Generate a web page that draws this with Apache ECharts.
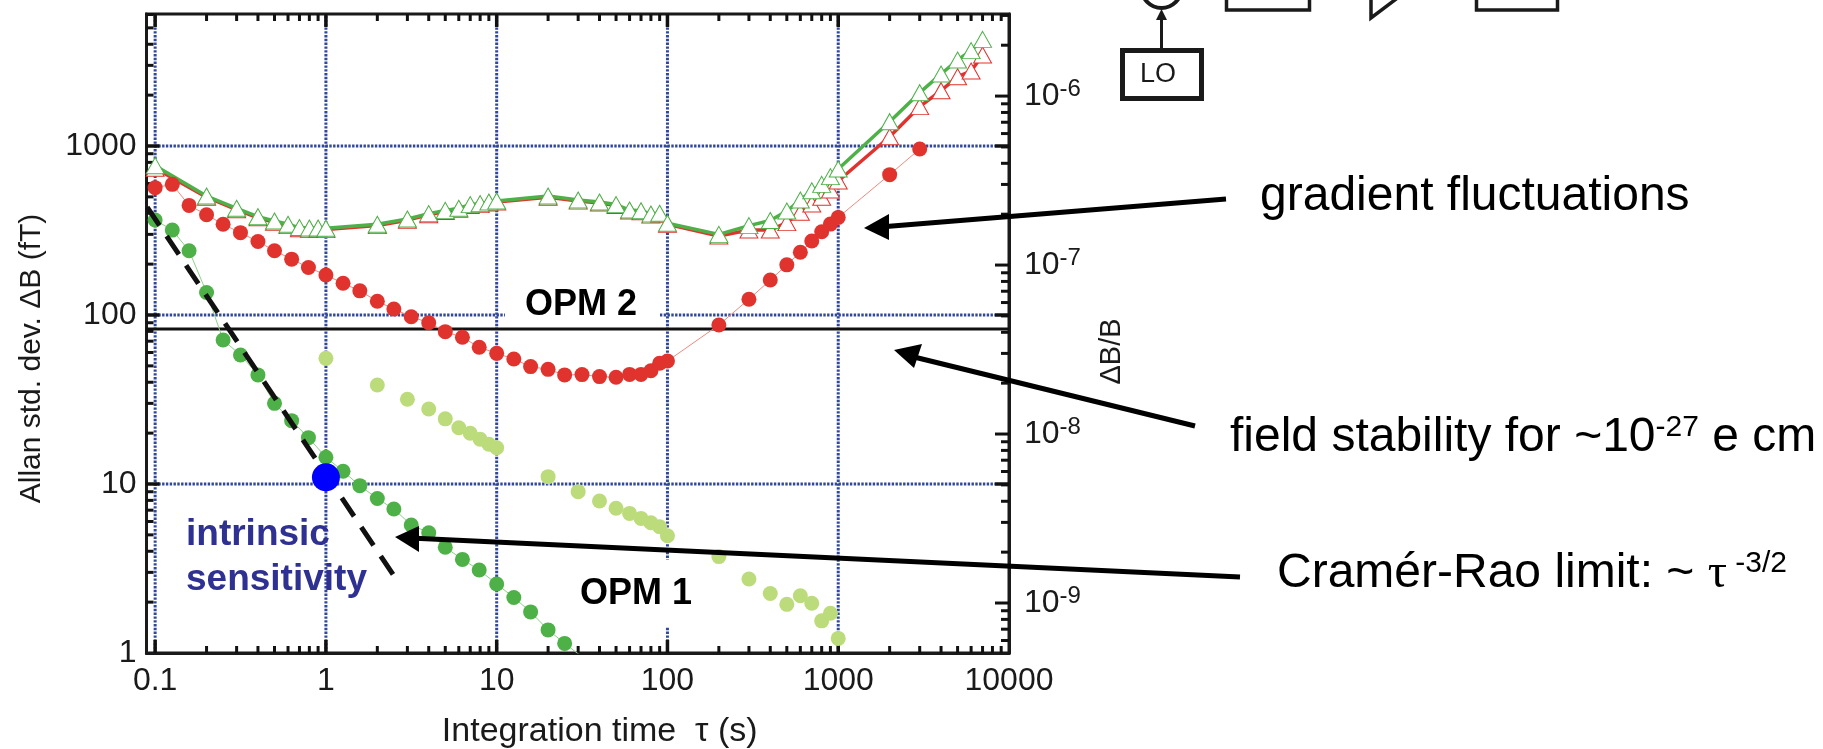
<!DOCTYPE html>
<html><head><meta charset="utf-8">
<style>html,body{margin:0;padding:0;background:#fff}#c{width:1823px;height:749px}</style>
<script src="https://cdn.jsdelivr.net/npm/echarts@6/dist/echarts.min.js"></script>
</head><body><div id="c"></div>
<script>
// ---- data ----
const tauFine = [0.1,0.126,0.158,0.2,0.25,0.316,0.4,0.5,0.63,0.79,1,1.26,1.58,2,2.5,3.16,4,5,6.3,7.9,10,12.6,15.8,20,25,31.6,40,50,60,70,80,90,100];
const redDots = [567,593,445,392,344,307,272,240,214,191,172.5,154,139,120.5,108.6,97.7,90,79.7,73.8,64.4,59.3,54.9,49.5,47.7,44.2,44.4,43.2,42.8,44.5,44.5,46.8,51.8,53.4];
const tauRedUpper = [200,300,400,500,600,700,800,900,1000,2000,3000];
const redDotsUpper = [87.3,124,161,198,235,274,311,345,378,677,960];
const tauGreen = [0.1,0.126,0.158,0.2,0.25,0.316,0.4,0.5,0.63,0.79,1,1.26,1.58,2,2.5,3.16,4,5,6.3,7.9,10,12.6,15.8,20,25,31.6];
const greenDots = [365,318,240,136,71.1,58,44.2,30,23.7,18.8,14.4,11.9,9.78,8.2,7.11,5.72,5.15,4.22,3.58,3.1,2.56,2.13,1.75,1.37,1.14,0.95];
const tauDecades = [1,2,3,4,5,6,7,8,9,10,20,30,40,50,60,70,80,90,100,200,300,400,500,600,700,800,900,1000];
const lightDots = [55.4,38.5,31.7,27.8,24.3,21.5,19.95,18.4,17.2,16.4,11.05,9.01,7.93,7.18,6.7,6.26,5.9,5.59,4.94,3.72,2.74,2.25,1.94,2.18,1.97,1.55,1.72,1.22];
const tauTri = [0.1,0.2,0.3,0.4,0.5,0.6,0.7,0.8,0.9,1,2,3,4,5,6,7,8,9,10,20,30,40,50,60,70,80,90,100,200,300,400,500,600,700,800,900,1000,2000,3000,4000,5000,6000,7000];
const greenTri = [765,506,428,382,360,344,329,327,327,326,344,370,398,416,428,450,456,466,473,506,479,466,450,418,414,396,400,349,300,338,362,412,479,544,593,659,731,1393,2068,2668,3228,3666,4276];
const redTri = [738,498,420,376,354,338,324,322,322,320,338,364,392,410,422,444,450,460,466,498,472,460,444,412,408,390,394,344,293,318,318,352,405,454,497,549,621,1135,1710,2125,2570,2778,3453];
const fieldLevel = 82.6;
const limitLine = [[0.0898,435],[2.485,2.89]];
const bluePoint = [[1,10.95]];
const xRange = [0.089,10000], yRange = [1,6040], rightRange = [5.06e-10,3.06e-6];
const gridX = [0.1,1,10,100,1000], gridY = [10,100,1000];
const xMinor = [0.2,0.3,0.4,0.5,0.6,0.7,0.8,0.9,2,3,4,5,6,7,8,9,20,30,40,50,60,70,80,90,200,300,400,500,600,700,800,900,2000,3000,4000,5000,6000,7000,8000,9000];
const xMajor = [0.1,1,10,100,1000];
const yMinor = [2,3,4,5,6,7,8,9,20,30,40,50,60,70,80,90,200,300,400,500,600,700,800,900,2000,3000,4000,5000,6000];
const rightMajor = [1e-9,1e-8,1e-7,1e-6];
const rightMinor = [6e-10,7e-10,8e-10,9e-10,2e-9,3e-9,4e-9,5e-9,6e-9,7e-9,8e-9,9e-9,2e-8,3e-8,4e-8,5e-8,6e-8,7e-8,8e-8,9e-8,2e-7,3e-7,4e-7,5e-7,6e-7,7e-7,8e-7,9e-7,2e-6,3e-6];

// ---- styles ----
const RED='#e0332e', GREEN='#4db148', LIGHT='#bcdc7c', INK='#1a1a1a', DOT='#30479b';
const SANS='"Liberation Sans", Arial, sans-serif';
const zip=(a,b)=>a.map((v,i)=>[v,b[i]]);
const isPow=v=>Math.abs(Math.log10(v)-Math.round(Math.log10(v)))<1e-6;

const dotSeries=(name,data,color,thin,size)=>({name,type:'line',data,symbol:'circle',symbolSize:size||15,
  lineStyle:{color:thin||color,width:thin?1:0},itemStyle:{color},z:4,animation:false,clip:true});
const triSeries=(name,data,color)=>({name,type:'line',data,symbol:'triangle',symbolSize:[18,16],
  lineStyle:{color,width:3.5},itemStyle:{color:'#fff',borderColor:color,borderWidth:1},z:3,animation:false});

const gridItems=[...gridX.map(v=>({v,k:'x'})),...gridY.map(v=>({v,k:'y'}))];
const tickItems=[
  ...xMajor.map(v=>({k:'x',v,l:13})),...xMinor.map(v=>({k:'x',v,l:7})),
  ...yMinor.map(v=>({k:'y',v,l:7})),...gridY.map(v=>({k:'y',v,l:13})),
];
const rightTickItems=[...rightMajor.map(v=>({v,l:14})),...rightMinor.map(v=>({v,l:8}))];
const R2=Math.log10(rightRange[1]/rightRange[0]);
const rLeft=Math.log10(yRange[1]/yRange[0])/R2;
const rightToLeft=v=>yRange[0]*Math.pow(10,Math.log10(v/rightRange[0])*rLeft);

const option={
  animation:false,backgroundColor:'#fff',
  textStyle:{fontFamily:SANS},
  grid:{left:146.5,right:814,top:14,bottom:96,outerBoundsMode:'none',containLabel:false,show:true,borderColor:INK,borderWidth:3,backgroundColor:'transparent'},
  xAxis:{type:'log',logBase:10,min:xRange[0],max:xRange[1],
    name:'Integration time  τ (s)',nameLocation:'middle',nameGap:62,
    nameTextStyle:{fontSize:34,color:INK,fontFamily:SANS,padding:[0,0,0,44]},
    axisLine:{show:true,lineStyle:{color:INK,width:3}},axisTick:{show:false},splitLine:{show:false},minorTick:{show:false},minorSplitLine:{show:false},
    axisLabel:{fontSize:32,color:INK,margin:12,hideOverlap:false,showMinLabel:true,showMaxLabel:true,
      formatter:v=>isPow(v)?String(+v.toPrecision(3)):''}},
  yAxis:[
    {type:'log',logBase:10,min:yRange[0],max:yRange[1],
     name:'Allan std. dev. ΔB (fT)',nameLocation:'middle',nameGap:100,
     nameTextStyle:{fontSize:30,color:INK,fontFamily:SANS,padding:[0,50,0,0]},
     axisLine:{show:true,lineStyle:{color:INK,width:3}},axisTick:{show:false},splitLine:{show:false},minorTick:{show:false},
     axisLabel:{fontSize:32,color:INK,margin:10,hideOverlap:false,showMinLabel:true,
       formatter:v=>isPow(v)?String(Math.round(v)):''}},
    {type:'log',logBase:10,min:rightRange[0],max:rightRange[1],position:'right',
     name:'ΔB/B',nameLocation:'middle',nameGap:88,
     nameTextStyle:{fontSize:29,color:INK,fontFamily:SANS,padding:[0,36,0,0]},
     axisLine:{show:true,lineStyle:{color:INK,width:3}},axisTick:{show:false},splitLine:{show:false},minorTick:{show:false},
     axisLabel:{margin:15,hideOverlap:false,align:'left',
       formatter:v=>isPow(v)?'{a|10}{b|'+Math.round(Math.log10(v))+'}':'',
       rich:{a:{fontSize:32,color:INK,fontFamily:SANS},b:{fontSize:24,color:INK,fontFamily:SANS,padding:[0,0,14,0]}}}}
  ],
  series:[
    {name:'gridlines',type:'custom',z:1,silent:true,data:gridItems.map((d,i)=>[d.k==='x'?d.v:xRange[0],d.k==='y'?d.v:yRange[0]]),
     renderItem:(p,api)=>{const d=gridItems[p.dataIndex];
       const a=d.k==='x'?api.coord([d.v,yRange[0]]):api.coord([xRange[0],d.v]);
       const b=d.k==='x'?api.coord([d.v,yRange[1]]):api.coord([xRange[1],d.v]);
       if(d.k==='y'){a[0]+=8;b[0]-=14;}
       return {type:'line',shape:{x1:a[0],y1:a[1],x2:b[0],y2:b[1]},style:{stroke:DOT,lineWidth:3,lineDash:[2.4,1.4]}};}},
    {name:'ticks',type:'custom',z:1.9,silent:true,clip:false,data:tickItems.map(d=>[d.k==='x'?d.v:xRange[0],d.k==='y'?d.v:yRange[0]]),
     renderItem:(p,api)=>{const d=tickItems[p.dataIndex];const w=d.l>10?3.5:3;const out=[];
       if(d.k==='x'){const a=api.coord([d.v,yRange[0]]),b=api.coord([d.v,yRange[1]]);
         out.push([a[0],a[1],a[0],a[1]-d.l],[b[0],b[1],b[0],b[1]+d.l]);}
       else{const a=api.coord([xRange[0],d.v]),b=api.coord([xRange[1],d.v]);
         out.push([a[0],a[1],a[0]+d.l,a[1]],[b[0],b[1],b[0]-14,b[1]]);
         if(d.l<10) out.pop();}
       return {type:'group',children:out.map(s=>({type:'line',shape:{x1:s[0],y1:s[1],x2:s[2],y2:s[3]},style:{stroke:'#111',lineWidth:w}}))};}},
    {name:'rightTicks',type:'custom',z:1.9,silent:true,clip:false,data:rightTickItems.map(d=>[xRange[1],rightToLeft(d.v)]),
     renderItem:(p,api)=>{const d=rightTickItems[p.dataIndex];const a=api.coord([xRange[1],rightToLeft(d.v)]);
       return {type:'line',shape:{x1:a[0],y1:a[1],x2:a[0]-d.l,y2:a[1]},style:{stroke:'#111',lineWidth:3}};}},
    {name:'field stability',type:'line',data:[[xRange[0],fieldLevel],[xRange[1],fieldLevel]],symbol:'none',lineStyle:{color:'#111',width:3},z:2.5},
    triSeries('OPM 2 gradient',zip(tauTri,redTri),RED),
    triSeries('OPM 1 gradient',zip(tauTri,greenTri),GREEN),
    dotSeries('OPM 2',zip(tauFine,redDots).concat(zip(tauRedUpper,redDotsUpper)),RED,'#f08a80'),
    dotSeries('OPM 1',zip(tauGreen,greenDots),GREEN,'#8fd08a'),
    dotSeries('OPM 1 long',zip(tauDecades,lightDots),LIGHT),
    {name:'Cramér-Rao limit',type:'line',data:limitLine,symbol:'none',lineStyle:{color:'#111',width:5,type:[22,13]},z:5},
    {name:'intrinsic sensitivity',type:'scatter',data:bluePoint,symbolSize:28,itemStyle:{color:'#0000ff',opacity:1},z:6}
  ],
  graphic:{elements:[
    {type:'rect',z:1.5,silent:true,shape:{x:505,y:288,width:155,height:34},style:{fill:'#fff'}},
    {type:'rect',z:1.5,silent:true,shape:{x:575,y:560,width:125,height:67},style:{fill:'#fff'}},
    {type:'text',z:7,style:{text:'OPM 2',x:525,y:305,fontSize:36,fontWeight:'bold',fill:'#000',fontFamily:SANS,verticalAlign:'middle'}},
    {type:'text',z:7,style:{text:'OPM 1',x:580,y:594,fontSize:36,fontWeight:'bold',fill:'#000',fontFamily:SANS,verticalAlign:'middle'}},
    {type:'text',z:7,style:{text:'intrinsic',x:186,y:535,fontSize:37,fontWeight:'bold',fill:'#2e3192',fontFamily:SANS,verticalAlign:'middle'}},
    {type:'text',z:7,style:{text:'sensitivity',x:186,y:580,fontSize:37,fontWeight:'bold',fill:'#2e3192',fontFamily:SANS,verticalAlign:'middle'}},
    {type:'text',z:7,style:{text:'gradient fluctuations',x:1260,y:197,fontSize:48,fill:'#000',fontFamily:SANS,verticalAlign:'middle'}},
    {type:'text',z:7,style:{x:1230,y:438,verticalAlign:'middle',text:'{a|field stability for ~10}{b|-27}{a| e cm}',
      rich:{a:{fontSize:48,fill:'#000',fontFamily:SANS},b:{fontSize:30,fill:'#000',fontFamily:SANS,padding:[0,0,20,0]}}}},
    {type:'text',z:7,style:{x:1277,y:574,verticalAlign:'middle',text:'{a|Cramér-Rao limit: ~ }{t|τ}{b| -3/2}',
      rich:{a:{fontSize:48,fill:'#000',fontFamily:SANS},t:{fontSize:48,fill:'#000',fontFamily:'"Liberation Serif",serif'},b:{fontSize:30,fill:'#000',fontFamily:SANS,padding:[0,0,20,0]}}}},
    {type:'line',z:8,shape:{x1:1226,y1:199,x2:880,y2:227},style:{stroke:'#000',lineWidth:5}},
    {type:'polygon',z:8,shape:{points:[[864,228],[889,214],[889,240]]},style:{fill:'#000'}},
    {type:'line',z:8,shape:{x1:1195,y1:426,x2:910,y2:356},style:{stroke:'#000',lineWidth:5}},
    {type:'polygon',z:8,shape:{points:[[894,350],[922,344],[914,368]]},style:{fill:'#000'}},
    {type:'line',z:8,shape:{x1:1240,y1:577,x2:410,y2:538},style:{stroke:'#000',lineWidth:5}},
    {type:'polygon',z:8,shape:{points:[[395,537],[419,526],[419,552]]},style:{fill:'#000'}},
    {type:'rect',z:8,shape:{x:1122.5,y:50.5,width:79,height:48},style:{fill:'#fff',stroke:'#1a1a1a',lineWidth:5}},
    {type:'text',z:8,style:{text:'LO',x:1158,y:75,fontSize:27,fill:'#1a1a1a',fontFamily:SANS,align:'center',verticalAlign:'middle'}},
    {type:'line',z:8,shape:{x1:1161.5,y1:48,x2:1161.5,y2:18},style:{stroke:'#1a1a1a',lineWidth:3}},
    {type:'polygon',z:8,shape:{points:[[1161.5,9],[1167,20],[1156,20]]},style:{fill:'#1a1a1a'}},
    {type:'circle',z:8,shape:{cx:1161.5,cy:-12,r:20},style:{fill:'none',stroke:'#1a1a1a',lineWidth:4}},
    {type:'rect',z:8,shape:{x:1226.5,y:-20,width:83,height:30},style:{fill:'#fff',stroke:'#1a1a1a',lineWidth:3.5}},
    {type:'rect',z:8,shape:{x:1476.5,y:-20,width:81,height:30},style:{fill:'#fff',stroke:'#1a1a1a',lineWidth:3.5}},
    {type:'polyline',z:8,shape:{points:[[1371,-2],[1371,18],[1408,-10]]},style:{fill:'none',stroke:'#1a1a1a',lineWidth:3.5}}
  ]}
};
const chart=echarts.init(document.getElementById('c'),null,{renderer:'canvas'});
chart.setOption(option);
</script></body></html>
